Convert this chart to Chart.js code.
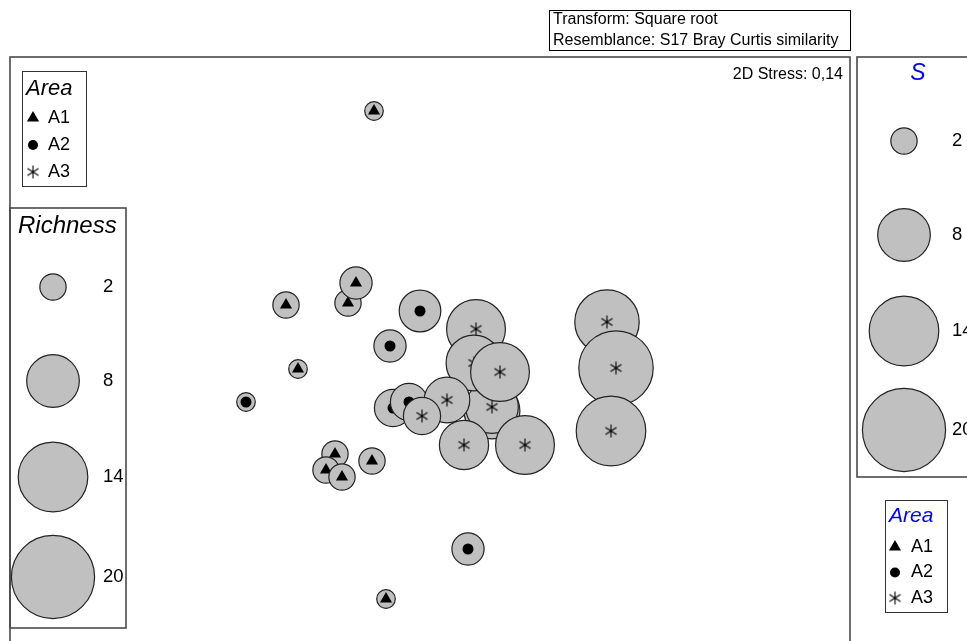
<!DOCTYPE html>
<html>
<head>
<meta charset="utf-8">
<script src="https://cdn.jsdelivr.net/npm/chart.js@4.4.0/dist/chart.umd.min.js"></script>
<style>
  html, body { margin: 0; padding: 0; background: #fff; overflow: hidden; }
  #wrap { position: relative; width: 967px; height: 667px; }
</style>
</head>
<body>
<div id="wrap"><canvas id="mds-chart"></canvas></div>
<script>
// nMDS ordination of samples, listed in the order they are drawn
var sampleX = [-0.28, -0.72, -0.41, -0.37, -0.66, -0.475, -0.52, -0.44, -0.29, -0.22,
  -0.92, -0.05, -0.20, -0.185, -0.105, 0.19,
  0.23, 0.31, 0.31, 0.22, 0.35, 0.085, -0.04, 0.17, 0.475, 0.885, 0.93, 0.905];
var sampleY = [1.23, 0.26, 0.27, 0.37, -0.06, -0.485, -0.565, -0.60, -0.52, -1.21,
  -0.225, 0.23, 0.055, -0.255, -0.225, -0.96,
  0.14, -0.27, -0.25, -0.03, -0.075, -0.215, -0.295, -0.44, -0.44, 0.175, -0.055, -0.37];
var richness = [1, 2, 2, 3, 1, 2, 2, 2, 2, 1,
  1, 5, 3, 4, 4, 3,
  10, 9, 8, 9, 10, 6, 4, 7, 10, 12, 16, 14];
var area = ['A1', 'A1', 'A1', 'A1', 'A1', 'A1', 'A1', 'A1', 'A1', 'A1',
  'A2', 'A2', 'A2', 'A2', 'A2', 'A2',
  'A3', 'A3', 'A3', 'A3', 'A3', 'A3', 'A3', 'A3', 'A3', 'A3', 'A3', 'A3'];
var areaLabels = ['A1', 'A2', 'A3'];
var sizeKeys = [2, 8, 14, 20];
var stressText = '2D Stress: 0,14';
var notes = ['Transform: Square root', 'Resemblance: S17 Bray Curtis similarity'];

// bubble area proportional to richness
function bubbleR(s) { return 9.3 * Math.sqrt(s); }

// six-armed asterisk marker for A3
var star = document.createElement('canvas');
star.width = 15; star.height = 15;
(function() {
  var c = star.getContext('2d');
  var cx = 7.5, cy = 7.5, L = 6.5;
  c.strokeStyle = '#000';
  c.lineWidth = 1.1;
  c.beginPath();
  [90, 32, 148].forEach(function(a) {
    var dx = Math.cos(a * Math.PI / 180) * L, dy = Math.sin(a * Math.PI / 180) * L;
    c.moveTo(cx - dx, cy - dy); c.lineTo(cx + dx, cy + dy);
  });
  c.stroke();
})();

var markerStyle = { A1: 'triangle', A2: 'circle', A3: star };
var markerSize = { A1: 7, A2: 5.5, A3: 7 };

function drawSymbol(ctx, kind, x, y) {
  ctx.save();
  ctx.fillStyle = '#000';
  if (kind === 'A1') {
    var r = 7;
    ctx.beginPath();
    ctx.moveTo(x, y - r);
    ctx.lineTo(x + 0.866 * r, y + 0.5 * r);
    ctx.lineTo(x - 0.866 * r, y + 0.5 * r);
    ctx.closePath();
    ctx.fill();
  } else if (kind === 'A2') {
    ctx.beginPath();
    ctx.arc(x, y, 5, 0, Math.PI * 2);
    ctx.fill();
  } else {
    ctx.drawImage(star, x - 7.5, y - 7.5);
  }
  ctx.restore();
}

function drawBubble(ctx, s, x, y) {
  ctx.beginPath();
  ctx.arc(x, y, bubbleR(s), 0, Math.PI * 2);
  ctx.fillStyle = '#c0c0c0';
  ctx.fill();
  ctx.lineWidth = 1.2;
  ctx.strokeStyle = '#222';
  ctx.stroke();
}

var frames = {
  id: 'frames',
  afterDraw: function(chart) {
    var ctx = chart.ctx;
    var a = chart.chartArea;
    ctx.save();
    // plot frame and key panels
    ctx.strokeStyle = '#4a4a4a';
    ctx.lineWidth = 1.6;
    ctx.strokeRect(a.left, a.top, a.right - a.left, a.bottom - a.top);
    ctx.strokeRect(857, 57, 130, 420);
    ctx.strokeRect(10, 208, 116, 420);
    ctx.lineWidth = 1;
    ctx.strokeStyle = '#333';
    ctx.strokeRect(22.5, 71.5, 64, 115);
    ctx.strokeRect(885.5, 500.5, 62, 112);
    ctx.strokeStyle = '#000';
    ctx.strokeRect(549.5, 10.5, 301, 40);

    ctx.fillStyle = '#000';
    ctx.textBaseline = 'middle';
    ctx.textAlign = 'left';
    ctx.font = '16px "Liberation Sans", Arial, sans-serif';
    ctx.fillText(notes[0], 553, 20);
    ctx.fillText(notes[1], 553, 41);
    ctx.textAlign = 'right';
    ctx.fillText(stressText, 843, 75);

    // left Area key
    ctx.textAlign = 'left';
    ctx.font = 'italic 22px "Liberation Sans", Arial, sans-serif';
    ctx.fillText('Area', 26, 89);
    ctx.font = '18px "Liberation Sans", Arial, sans-serif';
    areaLabels.forEach(function(lab, i) {
      drawSymbol(ctx, lab, 33, 118 + i * 27);
      ctx.fillStyle = '#000';
      ctx.fillText(lab, 48, 118 + i * 27);
    });

    // right Area key (blue title)
    ctx.font = 'italic 21px "Liberation Sans", Arial, sans-serif';
    ctx.fillStyle = '#0000ff';
    ctx.fillText('Area', 889, 516);
    ctx.font = '18px "Liberation Sans", Arial, sans-serif';
    areaLabels.forEach(function(lab, i) {
      drawSymbol(ctx, lab, 895, 547 + i * 25.5);
      ctx.fillStyle = '#000';
      ctx.fillText(lab, 911, 547 + i * 25.5);
    });

    // Richness size keys
    ctx.font = 'italic 24px "Liberation Sans", Arial, sans-serif';
    ctx.fillStyle = '#000';
    ctx.fillText('Richness', 18, 226);
    var leftY = [287, 381, 477, 577];
    var rightY = [141, 235, 331, 430];
    sizeKeys.forEach(function(s, i) {
      drawBubble(ctx, s, 53, leftY[i]);
      drawBubble(ctx, s, 904, rightY[i]);
      ctx.fillStyle = '#000';
      ctx.font = '18.5px "Liberation Sans", Arial, sans-serif';
      ctx.fillText(String(s), 103, leftY[i]);
      ctx.fillText(String(s), 952, rightY[i]);
    });
    ctx.font = 'italic 23px "Liberation Sans", Arial, sans-serif';
    ctx.fillStyle = '#0000ff';
    ctx.textAlign = 'center';
    ctx.fillText('S', 918, 74);
    ctx.restore();
  }
};

var datasets = [];
for (var i = 0; i < sampleX.length; i++) {
  var pt = { x: sampleX[i], y: sampleY[i] };
  datasets.push({
    type: 'bubble',
    data: [{ x: pt.x, y: pt.y, r: bubbleR(richness[i]) }],
    backgroundColor: '#c0c0c0',
    borderColor: '#222',
    borderWidth: 1.2,
    order: 1000 - 2 * i
  });
  datasets.push({
    type: 'scatter',
    data: [pt],
    pointStyle: markerStyle[area[i]],
    pointRadius: markerSize[area[i]],
    backgroundColor: '#000',
    borderColor: '#000',
    borderWidth: 0,
    order: 999 - 2 * i
  });
}

new Chart(document.getElementById('mds-chart'), {
  type: 'bubble',
  data: { datasets: datasets },
  options: {
    responsive: true,
    maintainAspectRatio: false,
    animation: false,
    events: [],
    layout: { autoPadding: false, padding: { left: 10, top: 57, right: 117, bottom: 10 } },
    plugins: { legend: { display: false }, tooltip: { enabled: false } },
    scales: {
      x: { type: 'linear', min: -2.1, max: 2.1, display: false },
      y: { type: 'linear', min: -1.5, max: 1.5, display: false }
    }
  },
  plugins: [frames]
});
</script>
</body>
</html>
